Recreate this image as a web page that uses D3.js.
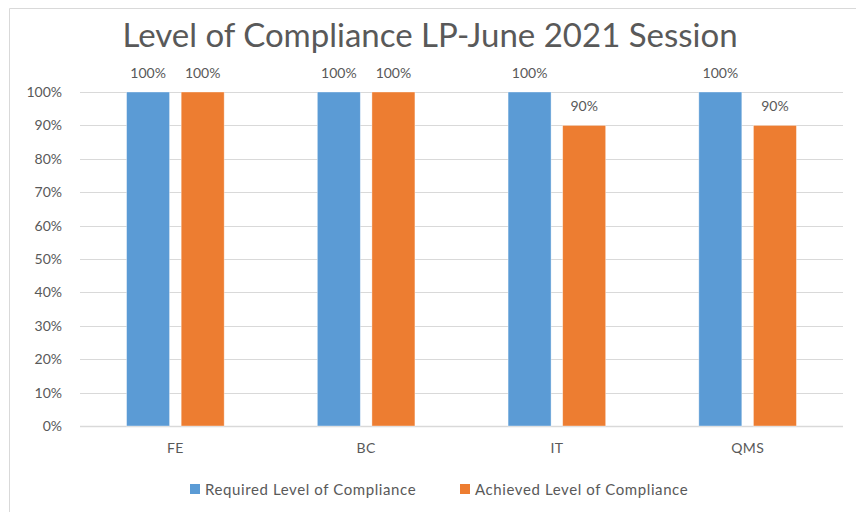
<!DOCTYPE html>
<html>
<head>
<meta charset="utf-8">
<script src="https://cdn.jsdelivr.net/npm/d3@7"></script>
<style>
  body { margin: 0; background: #fff; }
  text { font-family: Lato, "Open Sans", sans-serif; fill: #595959; }
</style>
</head>
<body>
<svg id="chart" width="856" height="512"></svg>
<script>
// chart values
var categories = ["FE", "BC", "IT", "QMS"];
var seriesNames = ["Required Level of Compliance", "Achieved Level of Compliance"];
var required = [1.0, 1.0, 1.0, 1.0];
var achieved = [1.0, 1.0, 0.9, 0.9];
var yTicks = [0, 0.1, 0.2, 0.3, 0.4, 0.5, 0.6, 0.7, 0.8, 0.9, 1.0];
var colors = ["#5b9bd5", "#ed7d31"];

var svg = d3.select("#chart");

// outer frame (left + top edges visible)
svg.append("path")
    .attr("d", "M9.5,512 V8.5 H856")
    .attr("fill", "none")
    .attr("stroke", "#d9d9d9");

var margin = {left: 80, right: 843, top: 92, bottom: 426};

var x0 = d3.scaleBand()
    .domain(categories)
    .range([margin.left, margin.right]);

var bw = x0.bandwidth();
var x1 = d3.scaleBand()
    .domain(seriesNames)
    .range([bw / 2 - 48.8, bw / 2 + 48.8])
    .paddingInner(0.2125);

var y = d3.scaleLinear()
    .domain([0, 1])
    .range([margin.bottom, margin.top]);

// gridlines
svg.append("g")
    .selectAll("line")
    .data(yTicks)
    .join("line")
    .attr("x1", margin.left)
    .attr("x2", margin.right)
    .attr("y1", d => Math.round(y(d)) + 0.5)
    .attr("y2", d => Math.round(y(d)) + 0.5)
    .attr("stroke", "#d9d9d9")
    .attr("stroke-width", d => d === 0 ? 1.5 : 1);

// y axis labels
var yAxis = d3.axisLeft(y)
    .tickValues(yTicks)
    .tickFormat(d3.format(".0%"))
    .tickSize(0)
    .tickPadding(18);

var yg = svg.append("g")
    .attr("transform", "translate(" + margin.left + ",0)")
    .call(yAxis);
yg.select(".domain").remove();
yg.selectAll("text")
    .style("font-size", "14px")
    .attr("fill", "#595959");

// x axis labels
var xAxis = d3.axisBottom(x0).tickSize(0).tickPadding(17);
var xg = svg.append("g")
    .attr("transform", "translate(0," + margin.bottom + ")")
    .call(xAxis);
xg.select(".domain").remove();
xg.selectAll("text")
    .style("font-size", "14px")
    .style("letter-spacing", "0.4px")
    .attr("fill", "#595959");

var data = categories.map(function(c, i) {
    return {cat: c, values: [
        {name: seriesNames[0], v: required[i], color: colors[0]},
        {name: seriesNames[1], v: achieved[i], color: colors[1]}
    ]};
});

var groups = svg.append("g")
    .selectAll("g")
    .data(data)
    .join("g")
    .attr("transform", d => "translate(" + x0(d.cat) + ",0)");

groups.selectAll("rect")
    .data(d => d.values)
    .join("rect")
    .attr("x", d => x1(d.name))
    .attr("width", x1.bandwidth())
    .attr("y", d => y(d.v))
    .attr("height", d => y(0) - y(d.v))
    .attr("fill", d => d.color)
    .attr("stroke", "#ffffff")
    .attr("stroke-opacity", 0.5)
    .attr("stroke-width", 0.75);

groups.selectAll("text.lbl")
    .data(d => d.values)
    .join("text")
    .attr("class", "lbl")
    .attr("x", d => x1(d.name) + x1.bandwidth() / 2)
    .attr("y", d => y(d.v) - 14)
    .attr("text-anchor", "middle")
    .style("font-size", "14px")
    .text(d => d3.format(".0%")(d.v));

// title
svg.append("text")
    .attr("x", 430)
    .attr("y", 47)
    .attr("text-anchor", "middle")
    .style("font-size", "33px")
    .text("Level of Compliance LP-June 2021 Session");

// legend
var legendX = [190, 460];
var lg = svg.append("g")
    .selectAll("g")
    .data(seriesNames)
    .join("g")
    .attr("transform", (d, i) => "translate(" + legendX[i] + ",484)");

lg.append("rect")
    .attr("width", 10)
    .attr("height", 10)
    .attr("fill", (d, i) => colors[i]);

lg.append("text")
    .attr("x", 15)
    .attr("y", 10.5)
    .style("font-size", "15px")
    .style("letter-spacing", "0.6px")
    .text(d => d);
</script>
</body>
</html>
